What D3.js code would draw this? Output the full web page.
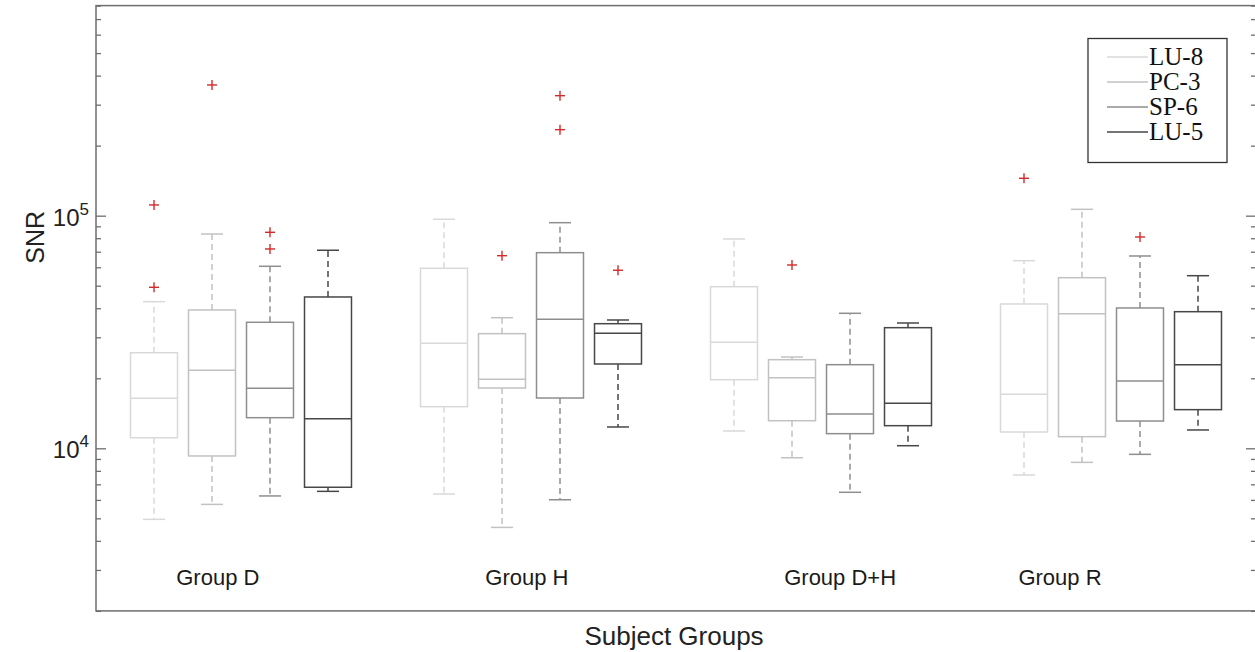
<!DOCTYPE html>
<html>
<head>
<meta charset="utf-8">
<script src="https://cdn.jsdelivr.net/npm/d3@7"></script>
<style>
  html, body { margin: 0; padding: 0; background: #fff; }
  svg { display: block; }
</style>
</head>
<body>
<svg id="chart" width="1255" height="652"></svg>
<script>
// Subject groups and acupoint series
const groupNames = ["Group D", "Group H", "Group D+H", "Group R"];
const groupLabelPos = [2.1, 7.43, 12.83, 16.62];
const seriesNames = ["LU-8", "PC-3", "SP-6", "LU-5"];
const seriesColors = ["#d9d9d9", "#c2c2c2", "#8e8e8e", "#474747"];

// Five-number summaries per group: [lower whisker, Q1, median, Q3, upper whisker]
const lu8 = [[4950, 11100, 16410, 25760, 42700], [6360, 15100, 28280, 59400, 96500], [11870, 19720, 28560, 49530, 79400], [7680, 11750, 17070, 41730, 64050]];
const pc3 = [[5740, 9270, 21640, 39320, 83420], [4570, 18160, 19800, 31100, 36430], [9110, 13140, 20120, 24040, 24690], [8700, 11220, 37900, 54130, 106500]];
const sp6 = [[6240, 13540, 18110, 34810, 60600], [6010, 16450, 35860, 69340, 93300], [6470, 11560, 14040, 22880, 38050], [9420, 13100, 19470, 40110, 67100]];
const lu5 = [[6530, 6800, 13410, 44720, 71010], [12350, 23040, 31220, 34330, 35610], [10260, 12510, 15610, 33000, 34570], [11990, 14660, 22880, 38660, 55210]];

// Outliers per group
const lu8Out = [[111200, 49230], [], [], [144800]];
const pc3Out = [[364700], [67300], [61380], []];
const sp6Out = [[84840, 71930], [328000, 234300], [], [80970]];
const lu5Out = [[], [58260], [], []];

// Axis settings
const yDomain = [2000, 800000];
const yMajor = [1e4, 1e5];
const xDomain = [0, 20];

const stats = [lu8, pc3, sp6, lu5];
const outliers = [lu8Out, pc3Out, sp6Out, lu5Out];

const svg = d3.select("#chart");
const plotLeft = 96, plotRight = 1256, plotTop = 5.6, plotBottom = 610.9;

const x = d3.scaleLinear().domain(xDomain).range([plotLeft, plotRight]);
const y = d3.scaleLog().domain(yDomain).range([plotBottom, plotTop]);

const boxW = x(0.81) - x(0);
const capW = boxW * 0.47;
const frameColor = "#6e6e6e";
const sans = "Liberation Sans, Arial, sans-serif";

// Minor ticks on the log axis
const minorTicks = [];
for (let e = 3; e <= 5; e++) {
  for (let m = 1; m <= 9; m++) {
    const v = m * Math.pow(10, e);
    if (v >= yDomain[0] && v <= yDomain[1] && !yMajor.includes(v)) minorTicks.push(v);
  }
}

// Left and right axes: inward ticks, labels drawn separately with superscripts
const axisL = svg.append("g").attr("transform", `translate(${plotLeft},0)`)
  .call(d3.axisRight(y).tickValues(yMajor).tickSize(10).tickFormat(""));
const axisLm = svg.append("g").attr("transform", `translate(${plotLeft},0)`)
  .call(d3.axisRight(y).tickValues(minorTicks).tickSize(5).tickFormat(""));
const axisR = svg.append("g").attr("transform", `translate(${plotRight},0)`)
  .call(d3.axisLeft(y).tickValues(yMajor).tickSize(10).tickFormat(""));
const axisRm = svg.append("g").attr("transform", `translate(${plotRight},0)`)
  .call(d3.axisLeft(y).tickValues(minorTicks).tickSize(5).tickFormat(""));
[axisL, axisLm, axisR, axisRm].forEach(a => {
  a.select(".domain").remove();
  a.selectAll(".tick line").attr("stroke", frameColor).attr("stroke-width", 1.3);
});

// Plot frame
svg.append("rect")
  .attr("x", plotLeft).attr("y", plotTop)
  .attr("width", plotRight - plotLeft).attr("height", plotBottom - plotTop)
  .attr("fill", "none").attr("stroke", frameColor).attr("stroke-width", 1.5);

// Y tick labels as 10^n
yMajor.forEach(v => {
  const t = svg.append("text")
    .attr("x", 89).attr("y", y(v) + 10)
    .attr("text-anchor", "end")
    .attr("font-family", sans)
    .attr("font-size", 24).attr("fill", "#222");
  t.append("tspan").text("10");
  t.append("tspan").attr("dy", -11).attr("font-size", 17).text(String(Math.round(Math.log10(v))));
});

// Boxes
const plot = svg.append("g");
stats.forEach((rows, s) => {
  const color = seriesColors[s];
  rows.forEach((d, g) => {
    const p = g * 5 + s + 1;
    const cx = x(p);
    const [lo, q1, med, q3, hi] = d;
    const gb = plot.append("g").attr("stroke", color).attr("stroke-width", 1.5).attr("fill", "none");
    // whiskers
    gb.append("line").attr("x1", cx).attr("x2", cx).attr("y1", y(q3)).attr("y2", y(hi)).attr("stroke-dasharray", "6,4");
    gb.append("line").attr("x1", cx).attr("x2", cx).attr("y1", y(q1)).attr("y2", y(lo)).attr("stroke-dasharray", "6,4");
    gb.append("line").attr("x1", cx - capW / 2).attr("x2", cx + capW / 2).attr("y1", y(hi)).attr("y2", y(hi));
    gb.append("line").attr("x1", cx - capW / 2).attr("x2", cx + capW / 2).attr("y1", y(lo)).attr("y2", y(lo));
    // box
    gb.append("rect").attr("x", cx - boxW / 2).attr("width", boxW)
      .attr("y", y(q3)).attr("height", y(q1) - y(q3));
    // median
    gb.append("line").attr("x1", cx - boxW / 2).attr("x2", cx + boxW / 2).attr("y1", y(med)).attr("y2", y(med));
    // outliers
    outliers[s][g].forEach(v => {
      const oy = y(v);
      const og = plot.append("g").attr("stroke", "#d42a2a").attr("stroke-width", 1.4);
      og.append("line").attr("x1", cx - 5).attr("x2", cx + 5).attr("y1", oy).attr("y2", oy);
      og.append("line").attr("x1", cx).attr("x2", cx).attr("y1", oy - 5).attr("y2", oy + 5);
    });
  });
});

// Group labels
svg.append("g").selectAll("text").data(groupNames).join("text")
  .attr("x", (d, i) => x(groupLabelPos[i]))
  .attr("y", 585)
  .attr("text-anchor", "middle")
  .attr("font-family", sans)
  .attr("font-size", 22).attr("fill", "#1a1a1a")
  .text(d => d);

// Axis titles
svg.append("text")
  .attr("x", (plotLeft + plotRight) / 2 - 2).attr("y", 645)
  .attr("text-anchor", "middle")
  .attr("font-family", sans)
  .attr("font-size", 26).attr("fill", "#222")
  .text("Subject Groups");
svg.append("text")
  .attr("transform", `translate(44,${(plotTop + plotBottom) / 2 - 71}) rotate(-90)`)
  .attr("text-anchor", "middle")
  .attr("font-family", sans)
  .attr("font-size", 25).attr("fill", "#222")
  .text("SNR");

// Legend
const lg = svg.append("g");
lg.append("rect").attr("x", 1088).attr("y", 38.5).attr("width", 139).attr("height", 124)
  .attr("fill", "#fff").attr("stroke", "#333").attr("stroke-width", 1.3);
seriesNames.forEach((name, i) => {
  const ly = 57 + i * 25;
  lg.append("line").attr("x1", 1107).attr("x2", 1148).attr("y1", ly).attr("y2", ly)
    .attr("stroke", seriesColors[i]).attr("stroke-width", 1.5);
  lg.append("text").attr("x", 1149).attr("y", ly + 8)
    .attr("font-family", "Liberation Serif, Times New Roman, serif")
    .attr("font-size", 25).attr("fill", "#111")
    .text(name);
});
</script>
</body>
</html>
